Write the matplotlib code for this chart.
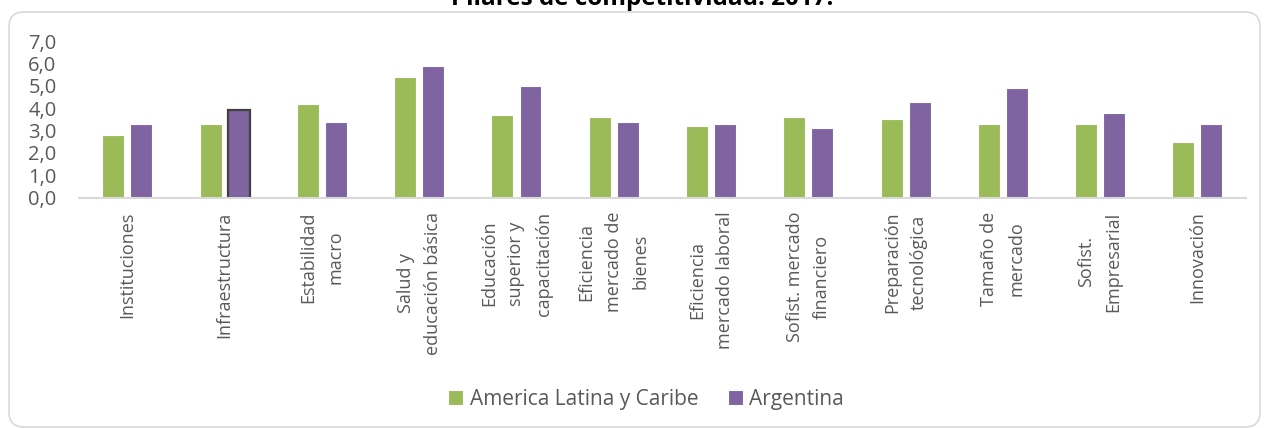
import matplotlib.pyplot as plt
import numpy as np
from matplotlib.patches import FancyBboxPatch

plt.rcParams["font.family"] = ["Open Sans", "DejaVu Sans"]

categorias = [
    "Instituciones",
    "Infraestructura",
    "Estabilidad\nmacro",
    "Salud y\neducación básica",
    "Educación\nsuperior y\ncapacitación",
    "Eficiencia\nmercado de\nbienes",
    "Eficiencia\nmercado laboral",
    "Sofist. mercado\nfinanciero",
    "Preparación\ntecnológica",
    "Tamaño de\nmercado",
    "Sofist.\nEmpresarial",
    "Innovación",
]
america_latina = [2.8, 3.3, 4.2, 5.4, 3.7, 3.6, 3.2, 3.6, 3.5, 3.3, 3.3, 2.5]
argentina = [3.3, 3.9, 3.4, 5.9, 5.0, 3.4, 3.3, 3.1, 4.3, 4.9, 3.8, 3.3]
yticks = [0, 1, 2, 3, 4, 5, 6, 7]

verde = "#9BBB59"
violeta = "#8064A2"
gris = "#595959"

fig = plt.figure(figsize=(12.67, 4.28), dpi=100)
ax = fig.add_axes([0.0622, 0.5381, 0.9212, 0.3657])

x = np.arange(len(categorias))
w = 0.226
ax.bar(x - 0.144, america_latina, w, color=verde, edgecolor="white", linewidth=0.8,
       label="America Latina y Caribe")
bordes = ["white"] * len(categorias)
bordes[1] = "#404040"
anchos = [0.8] * len(categorias)
anchos[1] = 1.6
ax.bar(x + 0.144, argentina, w, color=violeta, edgecolor=bordes, linewidth=anchos,
       label="Argentina")

ax.set_xlim(-0.5, len(categorias) - 0.5)
ax.set_ylim(0, 7)
ax.set_yticks(yticks, [f"{v:.1f}".replace(".", ",") for v in yticks])
ax.set_xticks(x, categorias, rotation=90, ha="center", va="top",
              multialignment="center", linespacing=1.65)
ax.tick_params(axis="y", length=0, pad=16, labelsize=14.5, labelcolor=gris)
ax.tick_params(axis="x", length=0, pad=10, labelsize=13, labelcolor=gris)

for s in ["top", "right", "left"]:
    ax.spines[s].set_visible(False)
ax.spines["bottom"].set_color("#d9d9d9")
ax.spines["bottom"].set_linewidth(1.5)

fig.legend(loc="center", bbox_to_anchor=(646 / 1267, 29 / 428), ncol=2, frameon=False,
           fontsize=15, labelcolor=gris, handlelength=0.75, handleheight=0.75,
           handletextpad=0.3, columnspacing=1.4)

# el título queda cortado arriba, como en el original
fig.text(642 / 1267, 1 - 5 / 428, "Pilares de competitividad. 2017.", ha="center",
         va="baseline", fontsize=17.5, fontweight="bold", color="black")

borde = FancyBboxPatch((0.09, 0.01), 12.51, 4.15, boxstyle="round,pad=0,rounding_size=0.15",
                       transform=fig.dpi_scale_trans, facecolor="none",
                       edgecolor="#d9d9d9", linewidth=1.2)
fig.patches.append(borde)

fig.savefig("out.png", dpi=100)
